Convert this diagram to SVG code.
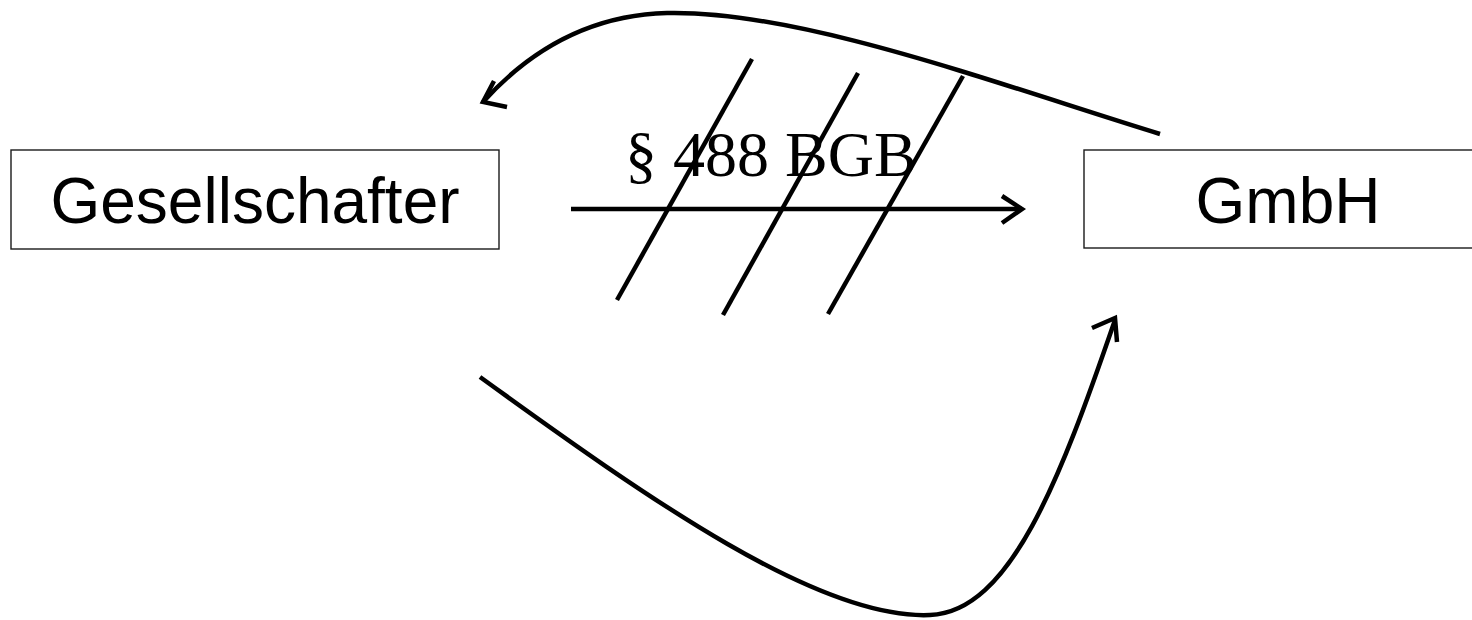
<svg xmlns="http://www.w3.org/2000/svg" width="1472" height="620" viewBox="0 0 1472 620">
<style>
.box{fill:#fff;stroke:#1a1a1a;stroke-width:1.4}
.lbl{font-family:"Liberation Sans",Arial,sans-serif;font-size:64px;fill:#000;text-anchor:middle}
.ser{font-family:"Liberation Serif","Times New Roman",serif;font-size:64px;fill:#000}
.ln{fill:none;stroke:#000;stroke-width:4.5;stroke-linecap:butt;stroke-linejoin:miter}
</style>
<rect width="1472" height="620" fill="#fff"/>
<g id="node-gesellschafter">
<rect class="box" x="11" y="150" width="488" height="99"/>
<text class="lbl" x="255" y="223">Gesellschafter</text>
</g>
<g id="node-gmbh">
<rect class="box" x="1084" y="150" width="410" height="98"/>
<text class="lbl" x="1288" y="223">GmbH</text>
</g>
<g id="label-bgb">
<text class="ser" x="625" y="176">§ 488 BGB</text>
</g>
<g id="connectors">
<path class="ln" d="M571,209 L1022,209"/>
<polyline class="ln" points="1002,196 1022,209 1002,223"/>
<path class="ln" d="M752,59 L617,300"/>
<path class="ln" d="M858,73 L723,315"/>
<path class="ln" d="M963,76 L828,314"/>
<path class="ln" d="M1160,134 C1000,85 800,10 667,13 C590,15 530,50 483,102"/>
<polyline class="ln" points="494,81 483,102 507,107"/>
<path class="ln" d="M480,377 C650,500 820,620 930,615 C1010,612 1060,480 1115,320"/>
<polyline class="ln" points="1092,328 1115,318 1117,342"/>
</g>
</svg>
